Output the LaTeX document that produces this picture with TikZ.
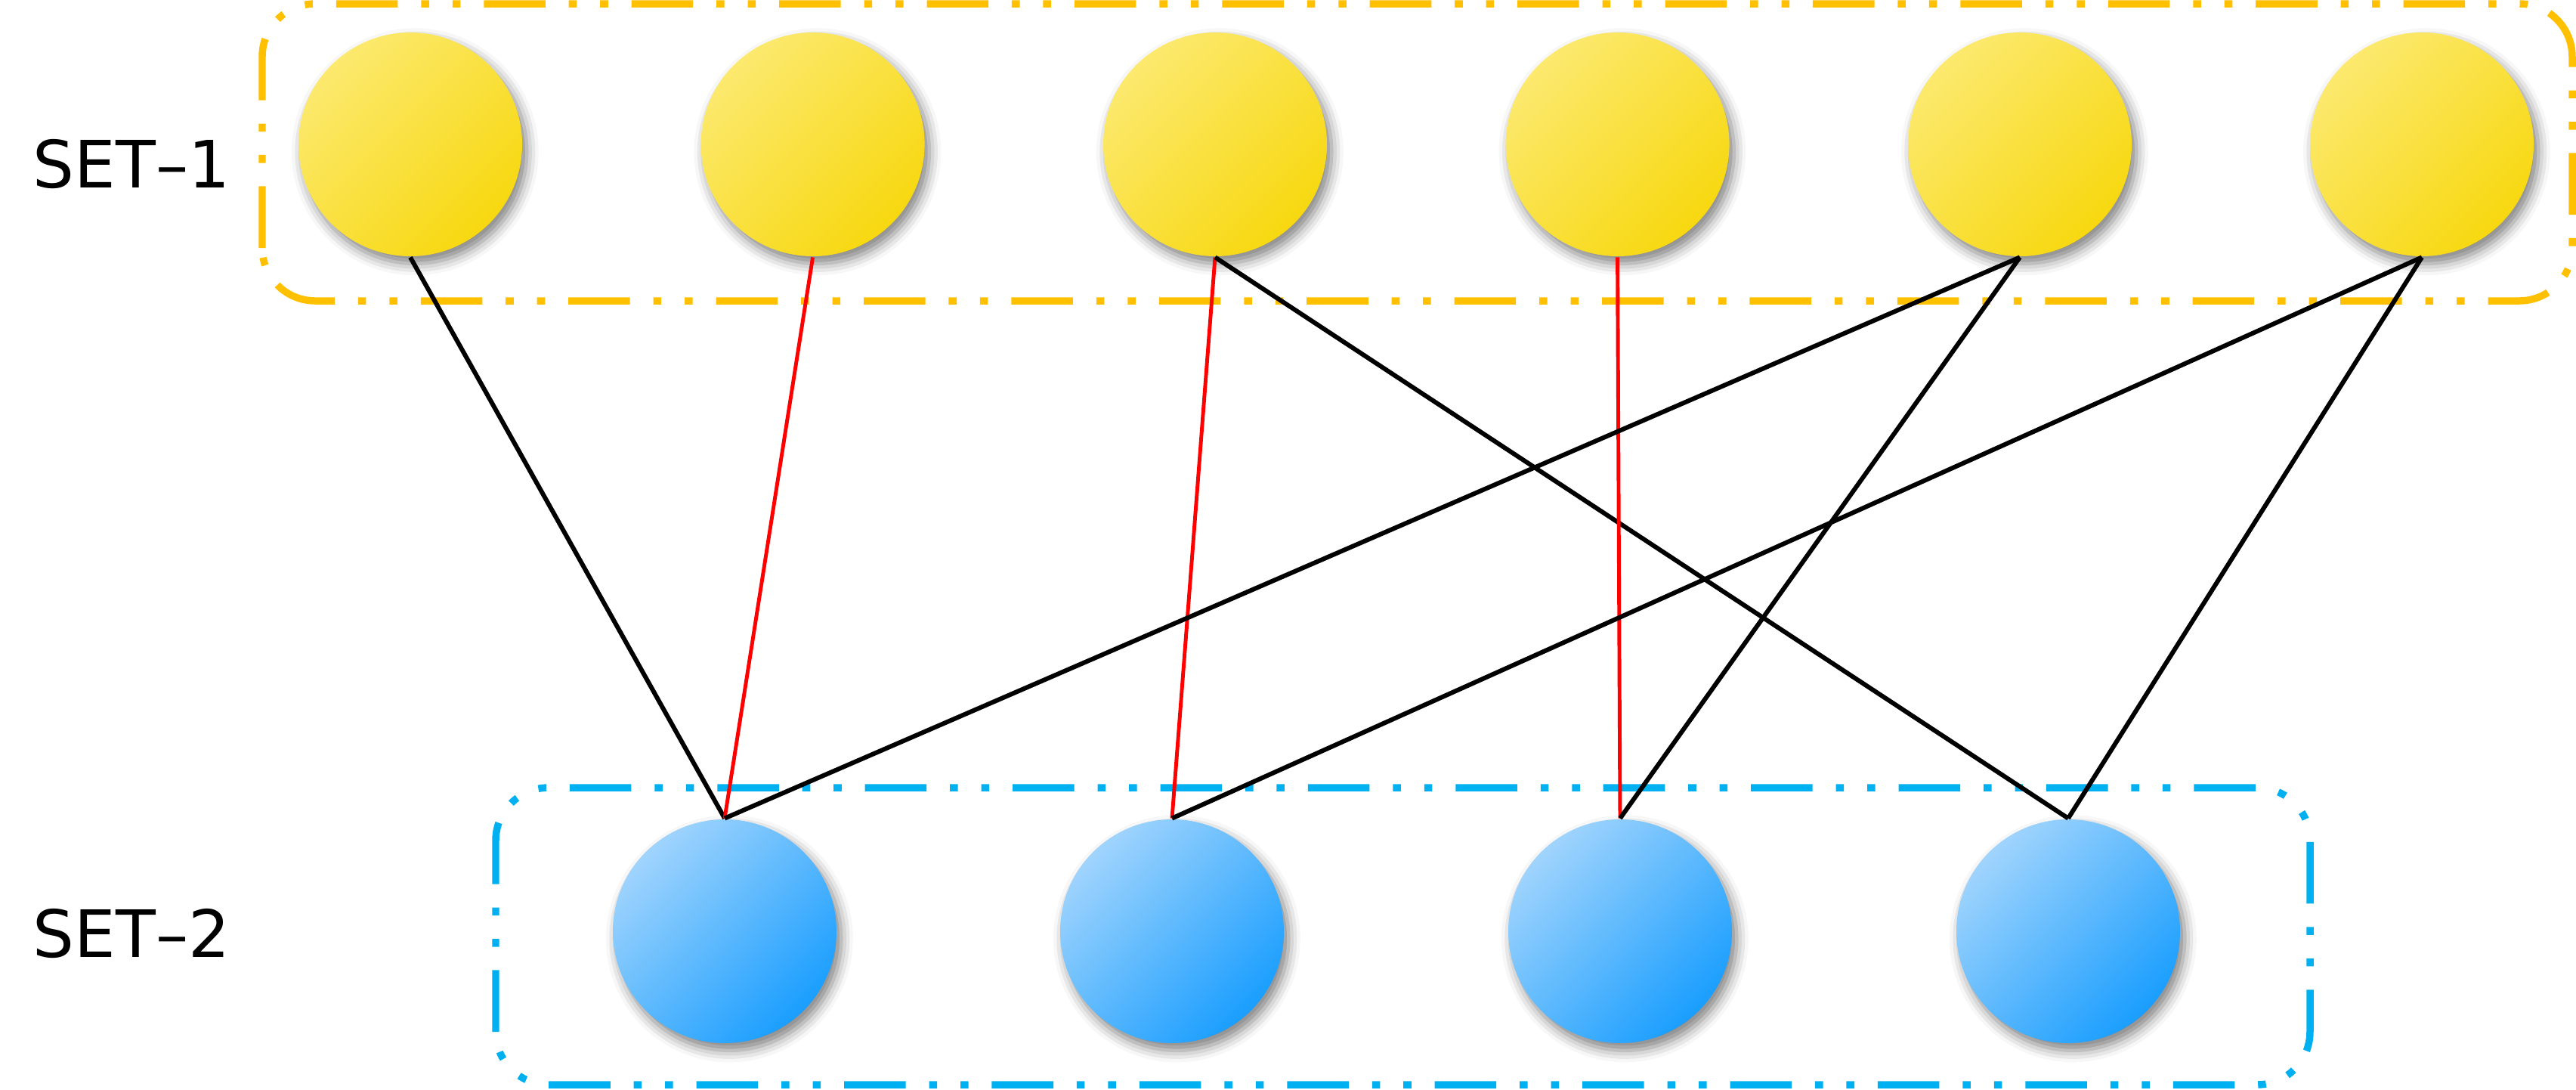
\documentclass[tikz,border=0pt]{standalone}
\usepackage{fontspec}
\setmainfont{DejaVu Sans}
\usepackage{tikz}
\usetikzlibrary{positioning,shadows.blur}

\definecolor{setoneline}{RGB}{255,192,0}
\definecolor{settwoline}{RGB}{0,176,240}
\definecolor{yellowlight}{RGB}{252,233,110}
\definecolor{yellowdark}{RGB}{247,216,16}
\definecolor{bluelight}{RGB}{160,212,253}
\definecolor{bluedark}{RGB}{26,158,254}

\begin{document}
\begin{tikzpicture}[x=1cm,y=1cm,
dotbox/.style={rounded corners=3.5mm,line width=1.35pt,
  dash pattern=on 11.6pt off 4.4pt on 1.5pt off 4.4pt on 1.5pt off 4.4pt},
ball/.style={circle,minimum size=14.8mm,inner sep=0pt,
  blur shadow={shadow xshift=0.9pt,shadow yshift=-1.4pt,shadow blur radius=2.2pt,shadow opacity=50}},
upper ball/.style={ball,top color=yellowlight,bottom color=yellowdark,shading angle=45},
lower ball/.style={ball,top color=bluelight,bottom color=bluedark,shading angle=45},
link/.style={line width=0.85pt,black},
match/.style={line width=0.7pt,red},
set label/.style={font=\fontsize{12.3}{14}\selectfont}]
\useasboundingbox (0,0) rectangle (17.045,7.205);

% the two groups
\draw[dotbox,setoneline] (1.735,5.215) rectangle (17.02,7.18);
\draw[dotbox,settwoline] (3.28,0.03) rectangle (15.285,1.995);

\node[set label] (l1) at (0.87,6.12) {SET–1};
\node[set label] (l2) at (0.87,1.03) {SET–2};

% set 1
\node[upper ball] (u1) at (2.715,6.25) {};
\node[upper ball] (u2) at (5.378,6.25) {};
\node[upper ball] (u3) at (8.040,6.25) {};
\node[upper ball] (u4) at (10.703,6.25) {};
\node[upper ball] (u5) at (13.365,6.25) {};
\node[upper ball] (u6) at (16.025,6.25) {};

% set 2
\node[lower ball] (v1) at (4.795,1.045) {};
\node[lower ball] (v2) at (7.755,1.045) {};
\node[lower ball] (v3) at (10.72,1.045) {};
\node[lower ball] (v4) at (13.685,1.045) {};

% edges
\draw[link] (u1.south) -- (v1.north);
\draw[match] (u2.south) -- (v1.north);
\draw[match] (u3.south) -- (v2.north);
\draw[link] (u3.south) -- (v4.north);
\draw[match] (u4.south) -- (v3.north);
\draw[link] (u5.south) -- (v1.north);
\draw[link] (u5.south) -- (v3.north);
\draw[link] (u6.south) -- (v2.north);
\draw[link] (u6.south) -- (v4.north);
\end{tikzpicture}
\end{document}
